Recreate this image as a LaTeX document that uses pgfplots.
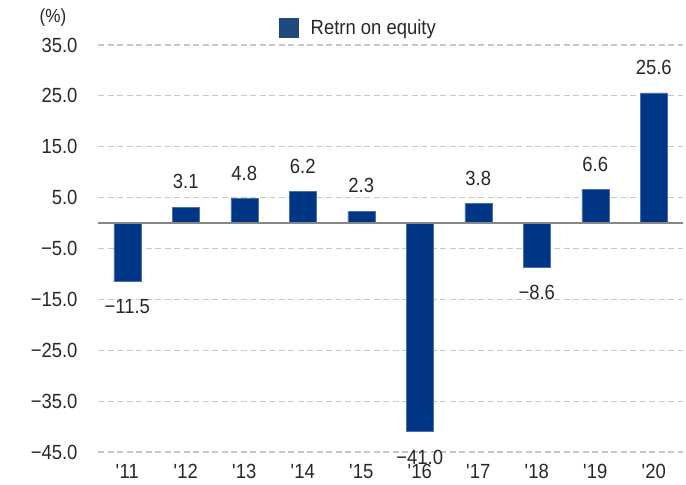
\documentclass[border=0pt]{standalone}
\usepackage{pgfplots}
\pgfplotsset{compat=1.18}
\usepackage{pgfplotstable}
\usetikzlibrary{calc}
\usepackage{fontspec}
\setmainfont{Liberation Sans}[FakeStretch=0.9]
\definecolor{barblue}{RGB}{0,54,134}
\definecolor{baredge}{RGB}{80,110,170}
\definecolor{legblue}{RGB}{31,73,125}
\definecolor{gridgray}{RGB}{200,200,200}
\definecolor{zerogray}{RGB}{135,135,135}
\definecolor{txt}{RGB}{40,40,40}
\pgfplotstableread{
x y label
0 -11.5 −11.5
1 3.1 3.1
2 4.8 4.8
3 6.2 6.2
4 2.3 2.3
5 -41.0 −41.0
6 3.8 3.8
7 -8.6 −8.6
8 6.6 6.6
9 25.6 25.6
}\roedata
\pgfplotstableread{
x y label
1 3.1 3.1
2 4.8 4.8
3 6.2 6.2
4 2.3 2.3
6 3.8 3.8
8 6.6 6.6
9 25.6 25.6
}\posdata
\pgfplotstableread{
x y label
0 -11.5 −11.5
5 -41.0 −41.0
7 -8.6 −8.6
}\negdata
\begin{document}
\begin{tikzpicture}
\begin{axis}[
  name=ax,
  scale only axis,
  width=585bp, height=407bp,
  font=\fontsize{20.5bp}{24bp}\selectfont,
  xmin=-0.5, xmax=9.5,
  ymin=-45, ymax=35,
  axis line style={draw=none},
  major tick length=0pt,
  xtick={0,...,9},
  xticklabels={{\textquotesingle}11,{\textquotesingle}12,{\textquotesingle}13,{\textquotesingle}14,{\textquotesingle}15,{\textquotesingle}16,{\textquotesingle}17,{\textquotesingle}18,{\textquotesingle}19,{\textquotesingle}20},
  ytick={-45,-35,-25,-15,-5,5,15,25,35},
  yticklabels={−45.0,−35.0,−25.0,−15.0,−5.0,5.0,15.0,25.0,35.0},
  yticklabel style={xshift=-17bp, text=txt},
  xticklabel style={yshift=-9bp, text=txt},
  ymajorgrids,
  grid style={gridgray, line width=1.2bp, dash pattern=on 6bp off 3.5bp},
  ybar, bar width=27bp, bar shift=0pt,
  legend style={at={(0.3094,1.0418)}, anchor=west, draw=none, fill=none, inner sep=0pt,
    font=\fontsize{20.5bp}{24bp}\selectfont, text=txt},
  legend image code/.code={\fill[legblue] (0bp,-9.5bp) rectangle (19bp,9.5bp); \path (29bp,0bp);},
  legend cell align=left,
  clip=false,
]
\addplot[fill=barblue, draw=baredge, line width=0.5bp]
  table[x=x, y=y] {\roedata};
\addlegendentry{Retrn on equity}
\addplot[forget plot, draw=none, fill=none,
  nodes near coords, point meta=explicit symbolic,
  every node near coord/.append style={anchor=south, inner ysep=18bp, inner xsep=0pt, text=txt,
     font=\fontsize{20.5bp}{24bp}\selectfont}]
  table[x=x, y=y, meta=label] {\posdata};
\addplot[forget plot, draw=none, fill=none,
  nodes near coords, point meta=explicit symbolic,
  every node near coord/.append style={anchor=north, inner ysep=18bp, inner xsep=0pt, text=txt,
     font=\fontsize{20.5bp}{24bp}\selectfont}]
  table[x=x, y=y, meta=label] {\negdata};
\draw[zerogray, line width=1.6bp] (axis cs:-0.5,0) -- (axis cs:9.5,0);
\node[text=txt, font=\fontsize{19bp}{22bp}\selectfont] at ($(rel axis cs:0,1)+(-45bp,27bp)$) {(\%)};
\end{axis}
\pgfresetboundingbox
\path ($(ax.south west)+(-98bp,-33bp)$) rectangle ($(ax.north east)+(3bp,45bp)$);
\end{tikzpicture}
\end{document}
